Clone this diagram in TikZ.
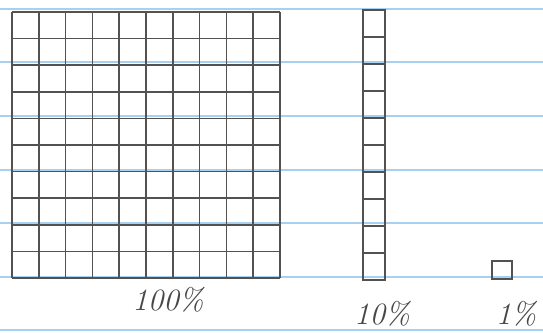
\documentclass[tikz,border=0pt]{standalone}
\definecolor{ruleblue}{RGB}{168,208,240}
\begin{document}
\begin{tikzpicture}[x=1pt,y=-1pt,
  ruled/.style={draw=ruleblue, line width=1.8pt},
  pencil/.style={draw=black!68, line width=1.5pt},
  lbl/.style={font=\fontsize{31}{31}\selectfont\itshape, text=black!72, inner sep=0pt}]
\useasboundingbox (0,0) rectangle (543,332);
\fill[white] (0,0) rectangle (543,332);
% ruled paper lines
\foreach \y in {9,62,116,170,223,277,330}
  \draw[ruled] (0,\y) -- (543,\y);
% 100 square
\foreach \i in {0,...,10}{
  \draw[pencil] ({12+26.8*\i},12) -- ({12+26.8*\i},278);
  \draw[pencil] (12,{12+26.6*\i}) -- (280,{12+26.6*\i});
}
% 10 strip
\draw[pencil] (363,10) rectangle (385,280);
\foreach \i in {1,...,9}
  \draw[pencil] (363,{10+27*\i}) -- (385,{10+27*\i});
% 1 square
\draw[pencil, line width=1.3pt] (492,261) rectangle (512,279);
% labels
\node[lbl] (p100) at (168,300) {100\%};
\node[lbl] (p10) at (382,314) {10\%};
\node[lbl] (p1) at (516,314) {1\%};
\end{tikzpicture}
\end{document}
